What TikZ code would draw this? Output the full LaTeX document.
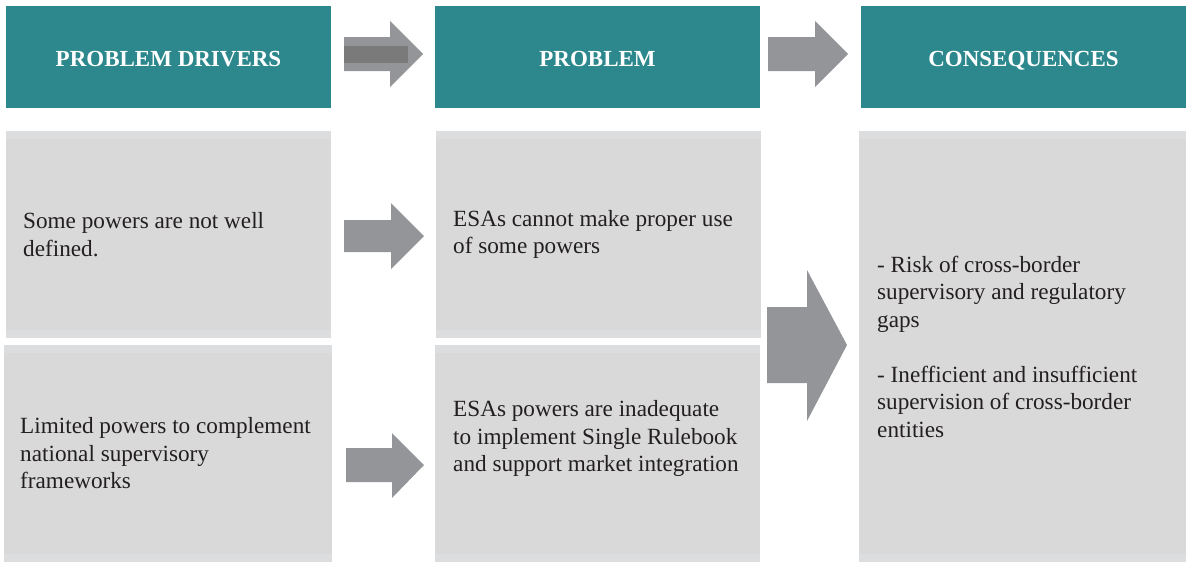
\documentclass[tikz,border=0pt]{standalone}
\usepackage{fontspec}
\setmainfont{Liberation Serif}
\definecolor{teal}{HTML}{2C888D}
\definecolor{boxgray}{HTML}{D9D9D9}
\definecolor{striplight}{HTML}{DCDDDF}
\definecolor{arrowgray}{HTML}{939598}
\definecolor{arrowdark}{HTML}{7A7A7A}
\definecolor{textdark}{HTML}{231F20}
\tikzset{
  headbox/.style={fill=teal, draw=none, inner sep=0pt, outer sep=0pt,
    text height=19pt, text depth=0pt,
    font=\fontsize{23}{27}\selectfont\bfseries, text=white},
  bodybox/.style={fill=boxgray, draw=none, inner sep=0pt, outer sep=0pt,
    path picture={
      \fill[striplight] (path picture bounding box.north west) rectangle ([yshift=-8pt]path picture bounding box.north east);
      \fill[striplight] (path picture bounding box.south west) rectangle ([yshift=8pt]path picture bounding box.south east);
    }},
  bodytext/.style={anchor=west, inner sep=0pt, align=left, text=textdark,
    font=\fontsize{23.2}{27.5}\selectfont},
  blockarrow/.style={fill=arrowgray, draw=none},
}
\begin{document}
\begin{tikzpicture}[x=1pt,y=-1pt]
\useasboundingbox[fill=white] (0,0) rectangle (1186,563);

% header boxes
\node[headbox, minimum width=325pt, minimum height=102pt] (h1) at (168.5,57) {PROBLEM DRIVERS};
\node[headbox, minimum width=325pt, minimum height=102pt] (h2) at (597.5,57) {PROBLEM};
\node[headbox, minimum width=325pt, minimum height=102pt] (h3) at (1023.5,57) {CONSEQUENCES};

% body boxes
\node[bodybox, minimum width=325pt, minimum height=207pt] (b1) at (168.5,234.5) {};
\node[bodybox, minimum width=328pt, minimum height=217pt] (b2) at (168,453.5) {};
\node[bodybox, minimum width=325pt, minimum height=207pt] (b3) at (598.5,234.5) {};
\node[bodybox, minimum width=325pt, minimum height=217pt] (b4) at (597.5,453.5) {};
\node[bodybox, minimum width=327pt, minimum height=431pt] (b5) at (1022.5,346.5) {};

% body texts
\node[bodytext] (t1) at ([xshift=17pt]b1.west) {Some powers are not well\\defined.};
\node[bodytext] (t2) at ([xshift=16pt]b2.west) {Limited powers to complement\\national supervisory\\frameworks};
\node[bodytext] (t3) at ([xshift=17pt]b3.west) {ESAs cannot make proper use\\of some powers};
\node[bodytext] (t4) at ([xshift=18pt,yshift=15pt]b4.west) {ESAs powers are inadequate\\to implement Single Rulebook\\and support market integration};
\node[bodytext] (t5) at ([xshift=18pt]b5.west) {- Risk of cross-border\\supervisory and regulatory\\gaps\\[27.5pt]- Inefficient and insufficient\\supervision of cross-border\\entities};

% header arrows
\fill[blockarrow] (344,37) -- (390,37) -- (390,21) -- (423,54) -- (390,87) -- (390,71) -- (344,71) -- cycle;
\fill[arrowdark] (344,46) rectangle (408,63);
\fill[blockarrow] (768,37) -- (815,37) -- (815,21) -- (848,54) -- (815,87) -- (815,71) -- (768,71) -- cycle;

% row arrows
\fill[blockarrow] (344,220) -- (391,220) -- (391,203) -- (424,236) -- (391,269) -- (391,252) -- (344,252) -- cycle;
\fill[blockarrow] (346,448) -- (392,448) -- (392,433) -- (424,465) -- (392,498) -- (392,482) -- (346,482) -- cycle;

% big arrow to consequences
\fill[blockarrow] (767,307) -- (807,307) -- (807,270) -- (847,345) -- (807,421) -- (807,383) -- (767,383) -- cycle;
\end{tikzpicture}
\end{document}
